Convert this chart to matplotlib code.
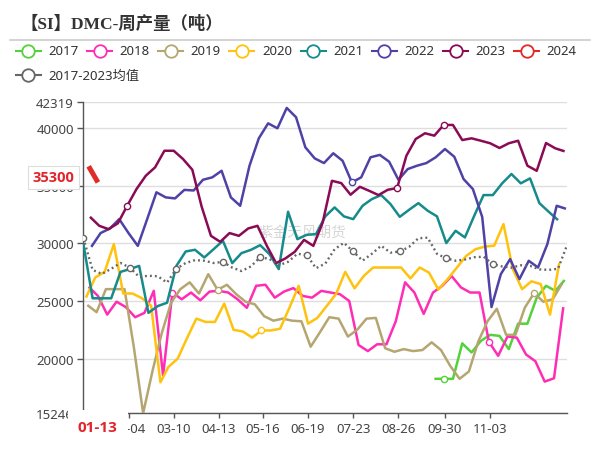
import numpy as np
import pandas as pd
import matplotlib
matplotlib.use("Agg")
import matplotlib.pyplot as plt
from matplotlib.lines import Line2D
from matplotlib.transforms import blended_transform_factory

plt.rcParams['font.family'] = ['Noto Sans', 'Noto Sans CJK SC', 'DejaVu Sans']

# ---- data (weekly, Friday dates; first date of each series) ----
start2017 = "2017-09-22"
s2017 = [18240, 18240, 18240, 21320, 20530, 21530, 22060, 21970, 20820, 23030,
         23030, 25290, 26320, 25880, 26820]

start2018 = "2018-01-05"
s2018 = [26235, 25440, 23820, 24940, 24470, 23590, 23970, 25880, 18530, 25735,
         25150, 25735, 25060, 25820, 25880, 25735, 25150, 24410, 26320, 26410,
         25290, 25820, 26120, 25440, 25290, 25880, 25735, 25590, 25000, 21180,
         20650, 21240, 21240, 23240, 26620, 25735, 23880, 25735, 26320, 27170,
         26180, 25735, 25735, 21470, 20240, 21910, 21820, 20350, 19770, 18000,
         18290, 24470]

start2019 = "2019-01-04"
s2019 = [24650, 24030, 26030, 26030, 26030, 21000, 15246, 18900, 22210, 24850,
         26030, 26620, 25650, 27330, 25970, 26410, 25590, 24940, 24710, 23680,
         23290, 23470, 23290, 23240, 21030, 22290, 23590, 23470, 21910, 22500,
         23470, 23530, 20900, 20590, 20820, 20650, 20740, 21410, 20740, 19350,
         18240, 18880, 21470, 23240, 24320, 22060, 22060, 24410, 25680, 24940,
         25150, 26500]

start2020 = "2020-01-03"
s2020 = [25300, 27040, 27530, 29940, 25650, 25650, 25250, 24600, 17940, 19270,
         20000, 21770, 23470, 23180, 23180, 24770, 22500, 22350, 21820, 22440,
         22440, 22590, 24410, 26320, 23030, 23530, 24560, 25590, 27530, 26100,
         27180, 27910, 27910, 27910, 27910, 26960, 27910, 27460, 26000, 26900,
         27910, 28920, 29500, 29730, 29800, 31680, 27770, 26030, 26710, 26470,
         23820, 28300]

start2021 = "2021-01-01"
s2021 = [30000, 25235, 25235, 25235, 27530, 27770, 28050, 23970, 24560, 24850,
         28050, 29300, 29450, 28780, 29500, 30230, 28290, 29160, 29440, 29850,
         29070, 27770, 32750, 30370, 30750, 30810, 32350, 33130, 32350, 32110,
         33270, 33850, 34200, 33420, 32310, 32920, 33500, 32840, 32350, 30030,
         31100, 30520, 32400, 34200, 34200, 35220, 36030, 35220, 35650, 33500,
         32750, 32030]

start2022 = "2022-01-07"
s2022 = [29700, 30900, 31300, 32110, 30900, 29790, 32100, 34440, 34000, 33910,
         34650, 34600, 35530, 35740, 36310, 34000, 33270, 36750, 39130, 40430,
         40000, 41770, 40960, 38350, 37390, 36980, 37830, 37180, 35300, 35740,
         37480, 37690, 37100, 35530, 36460, 36750, 36980, 37480, 38200, 37530,
         35590, 34720, 32300, 24470, 27330, 28640, 26900, 28490, 27910, 29940,
         33270, 33010]

start2023 = "2023-01-06"
s2023 = [32310, 31530, 31240, 31750, 33270, 34720, 35880, 36610, 38050, 38050,
         37330, 36400, 33200, 30660, 30140, 30900, 30660, 31300, 31530, 29800,
         28290, 28700, 29270, 30310, 29790, 31800, 35440, 35240, 34230, 34920,
         34570, 34200, 34660, 34810, 37620, 39070, 39570, 39360, 40290, 40290,
         38980, 39130, 38920, 38700, 38290, 38700, 38920, 36750, 36310, 38720,
         38260, 38000]

start2024 = "2024-01-05"
s2024 = [36700, 35300]

start_avg = "2021-01-01"
s_avg = [30460, 27700, 27350, 27800, 28300, 27900, 27100, 27190, 27150, 26600,
         27800, 28300, 28550, 28500, 28300, 28400, 27900, 27600, 28000, 28800,
         28650, 28100, 28400, 29100, 29000, 27850, 28250, 29500, 30050, 29300,
         28500, 29100, 29800, 29200, 29300, 29700, 30450, 30500, 29100, 28700,
         28500, 28600, 28800, 28850, 28200, 28000, 27900, 28100, 28050, 27750,
         27700, 27800, 29900]

tick_dates = ["02-04", "03-10", "04-13", "05-16", "06-19", "07-23", "08-26", "09-30", "11-03"]
y_ticks = [15246, 20000, 25000, 30000, 35000, 40000, 42319]

series = [
    ("2017", start2017, s2017, "#55d13c", [1]),
    ("2018", start2018, s2018, "#ff2db4", [9, 43]),
    ("2019", start2019, s2019, "#b5a671", [14, 48]),
    ("2020", start2020, s2020, "#ffc20e", [19]),
    ("2021", start2021, s2021, "#168b8c", []),
    ("2022", start2022, s2022, "#4f42a6", [28]),
    ("2023", start2023, s2023, "#8a0b55", [4, 33, 38]),
    ("2024", start2024, s2024, "#e12a2a", []),
]


def common_days(dates):
    df = pd.DataFrame({"year": 2023, "month": dates.month, "day": dates.day})
    return (pd.to_datetime(df) - pd.Timestamp("2023-01-01")).dt.days.values


def week_x(start, n):
    return common_days(pd.date_range(start, periods=n, freq="7D"))


W, H = 601, 477
fig = plt.figure(figsize=(W / 100, H / 100), dpi=100)
ax = fig.add_axes([83.3 / W, 1 - 414.3 / H, 484 / W, (414.3 - 102.6) / H])

for name, start, vals, col, marks in series:
    x = week_x(start, len(vals))
    lw = 3.6 if name == "2024" else 1.8
    ax.plot(x, vals, color=col, lw=lw, zorder=3, solid_capstyle="butt",
            marker="o", markevery=marks, ms=4.5, mfc="white", mec=col, mew=1.0)

xa = week_x(start_avg, len(s_avg))
ax.plot(xa, s_avg, color="#666666", lw=1.7, ls=(0, (0.8, 1.3)), zorder=4,
        marker="o", markevery=[0, 5, 10, 15, 19, 24, 29, 34, 39, 44],
        ms=4.5, mfc="white", mec="#666666", mew=1.0)

# axes styling
ax.set_xlim(0, 364)
ax.set_ylim(15246, 42319)
tick_x = common_days(pd.to_datetime(["2023-" + d for d in tick_dates]))
ax.set_xticks(tick_x)
ax.set_xticklabels(tick_dates)
ax.set_yticks(y_ticks)
ax.set_yticklabels([str(v) for v in y_ticks])
ax.tick_params(axis="both", labelsize=9.5, colors="#444444", width=1)
ax.tick_params(axis="x", length=3.6, pad=2.5, color="#555555")
ax.tick_params(axis="y", length=4.3, pad=2.4, color="#555555")
for s in ["top", "right"]:
    ax.spines[s].set_visible(False)
for s in ["left", "bottom"]:
    ax.spines[s].set_color("#555555")
    ax.spines[s].set_linewidth(1.0)
ax.grid(axis="y", color="#dedede", lw=1.0, zorder=0)
ax.set_axisbelow(True)

ax.text(0.453, 0.582, "紫金天风期货", transform=ax.transAxes, ha="center", va="center",
        fontsize=10.5, color="#bbbbbb", alpha=0.6, zorder=1,
        family=["Noto Sans CJK SC"])

# axis pointer labels
bt = blended_transform_factory(ax.transData, ax.transAxes)
ax.text(11, -0.045, "01-13", transform=bt, ha="center", va="center", color="#e0262c",
        fontsize=11, weight="bold", zorder=10, clip_on=False, family=["Open Sans"],
        bbox=dict(boxstyle="square,pad=0.65", fc="white", ec="none"))
by = blended_transform_factory(ax.transAxes, ax.transData)
ax.annotate("35300", xy=(0, 35300), xycoords=by, xytext=(-6.5, 3.7), textcoords="offset points",
            ha="right", va="center", color="#e0262c", fontsize=10.5, weight="bold",
            family=["Open Sans"], zorder=10, annotation_clip=False,
            bbox=dict(boxstyle="square,pad=0.3", fc="white", ec="#dddddd", lw=0.8))

# title and separator
def fx(px):
    return px / W


def fy(py):
    return 1 - py / H


fig.text(fx(21), fy(24), "【SI】DMC-周产量（吨）", ha="left", va="center", fontsize=12.5,
         weight="bold", color="#333333", family=["Liberation Serif", "Noto Sans CJK SC"])
fig.add_artist(Line2D([fx(10), fx(590)], [fy(40.7), fy(40.7)], color="#cccccc", lw=1.2))

# legend
leg_items = [(name, col) for name, _, _, col, _ in series] + [("2017-2023均值", "#666666")]
for i, (name, col) in enumerate(leg_items):
    if i < 8:
        cx, cy = 28.3 + 71.2 * i, 51.7
    else:
        cx, cy = 28.3, 76
    fig.add_artist(Line2D([fx(cx - 12.5), fx(cx + 12.5)], [fy(cy), fy(cy)], color=col, lw=1.5))
    fig.add_artist(Line2D([fx(cx)], [fy(cy)], marker="o", ms=9, mfc="white", mec=col, mew=1.3))
    fig.text(fx(cx + 20), fy(cy), name, ha="left", va="center", fontsize=9.5, color="#333333")

fig.savefig("out.png", dpi=100)
